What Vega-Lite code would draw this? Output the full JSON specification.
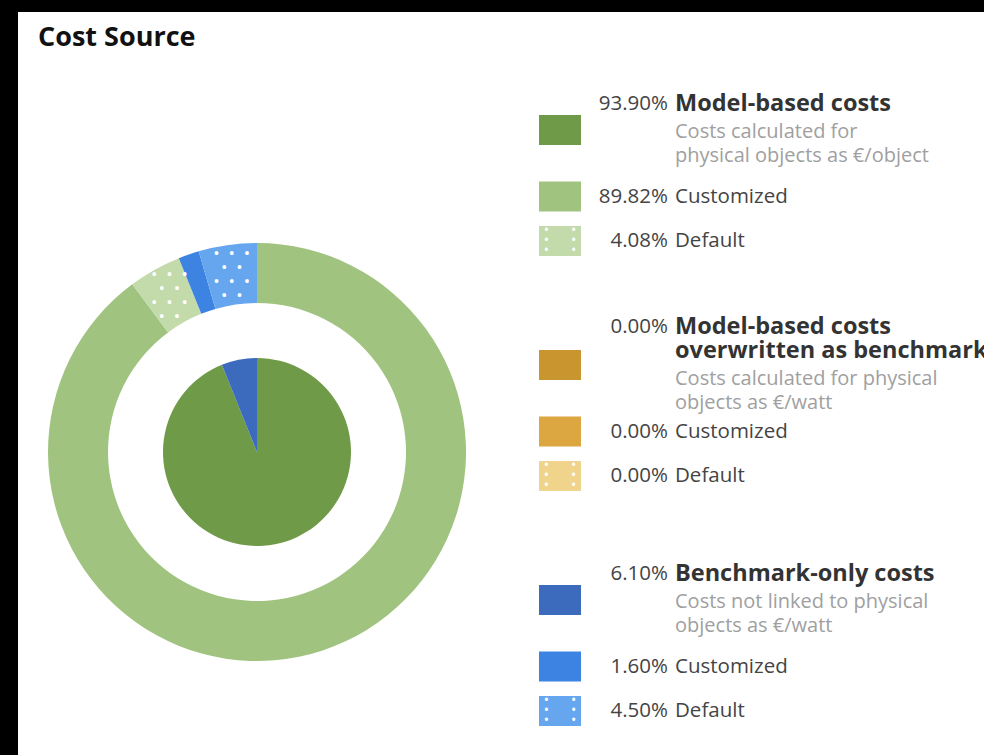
{
  "$schema": "https://vega.github.io/schema/vega-lite/v6.json",
  "background": "black",
  "padding": {"left": 18, "top": 12, "right": 0, "bottom": 0},
  "spacing": 0,
  "config": {
    "view": {"stroke": null, "fill": "white"},
    "font": "Open Sans",
    "concat": {"spacing": 0}
  },
  "datasets": {
    "costs": [
      {"seq": 1, "group": "model", "entry": "header", "value": 93.90, "label": "Model-based costs", "desc": "Costs calculated for\nphysical objects as €/object"},
      {"seq": 2, "group": "model", "entry": "Customized", "value": 89.82, "label": "Customized"},
      {"seq": 3, "group": "model", "entry": "Default", "value": 4.08, "label": "Default"},
      {"seq": 4, "group": "overwritten", "entry": "header", "value": 0.00, "label": "Model-based costs\noverwritten as benchmark", "desc": "Costs calculated for physical\nobjects as €/watt"},
      {"seq": 5, "group": "overwritten", "entry": "Customized", "value": 0.00, "label": "Customized"},
      {"seq": 6, "group": "overwritten", "entry": "Default", "value": 0.00, "label": "Default"},
      {"seq": 7, "group": "benchmark", "entry": "header", "value": 6.10, "label": "Benchmark-only costs", "desc": "Costs not linked to physical\nobjects as €/watt"},
      {"seq": 8, "group": "benchmark", "entry": "Customized", "value": 1.60, "label": "Customized"},
      {"seq": 9, "group": "benchmark", "entry": "Default", "value": 4.50, "label": "Default"}
    ]
  },
  "hconcat": [
    {
      "spacing": 0,
      "vconcat": [
        {
          "width": 478,
          "height": 137,
          "data": {"values": [{"title": "Cost Source"}]},
          "mark": {"type": "text", "align": "left", "baseline": "middle", "fontSize": 27, "fontWeight": "bold", "color": "#111111"},
          "encoding": {
            "text": {"field": "title", "type": "nominal"},
            "x": {"value": 20},
            "y": {"value": 26}
          }
        },
        {
          "width": 478,
          "height": 606,
          "data": {"name": "costs"},
          "transform": [{"calculate": "datum.group + '|' + datum.entry", "as": "key"}],
          "layer": [
            {
              "data": {"values": [{}]},
              "mark": {"type": "rect", "color": "white"},
              "encoding": {}
            },
            {
              "transform": [{"filter": "datum.entry != 'header'"}],
              "mark": {"type": "arc", "innerRadius": 149, "outerRadius": 209},
              "encoding": {
                "theta": {"field": "value", "type": "quantitative", "stack": true},
                "order": {"field": "seq", "type": "quantitative"},
                "color": {
                  "field": "key", "type": "nominal", "legend": null,
                  "scale": {
                    "domain": ["model|header", "model|Customized", "model|Default", "overwritten|header", "overwritten|Customized", "overwritten|Default", "benchmark|header", "benchmark|Customized", "benchmark|Default"],
                    "range": ["#6f9a48", "#a0c37f", "#c3dbab", "#c9952f", "#dca641", "#f1d48b", "#3c6bbd", "#3c83e2", "#66a6ef"]
                  }
                }
              }
            },
            {
              "transform": [{"filter": "datum.entry != 'header'"}],
              "mark": {"type": "text", "radius": 179, "lineBreak": "\n", "color": "white", "fontSize": 17, "lineHeight": 14, "align": "center", "baseline": "middle", "dy": -21},
              "encoding": {
                "theta": {"field": "value", "type": "quantitative", "stack": true},
                "order": {"field": "seq", "type": "quantitative"},
                "text": {"condition": {"test": "datum.entry == 'Default' && datum.value > 0", "value": "•\u00a0\u00a0•\u00a0\u00a0•\n•\u00a0\u00a0•\n•\u00a0\u00a0•\u00a0\u00a0•\n•\u00a0\u00a0•"}, "value": ""}
              }
            },
            {
              "transform": [{"filter": "datum.entry == 'header'"}],
              "mark": {"type": "arc", "outerRadius": 94},
              "encoding": {
                "theta": {"field": "value", "type": "quantitative", "stack": true},
                "order": {"field": "seq", "type": "quantitative"},
                "color": {"field": "key", "type": "nominal", "legend": null}
              }
            }
          ]
        }
      ]
    },
    {
      "width": 488,
      "height": 743,
      "data": {"name": "costs"},
      "transform": [
        {"calculate": "datum.group + '|' + datum.entry", "as": "key"},
        {"calculate": "length(split(datum.label, '\\n'))", "as": "nl"},
        {"calculate": "format(datum.value, '.2f') + '%'", "as": "pctText"}
      ],
      "encoding": {
        "y": {"field": "group", "type": "nominal", "axis": null, "scale": {"type": "point", "padding": 0, "domain": ["model", "overwritten", "benchmark"], "range": [118, 588]}},
        "yOffset": {"field": "entry", "type": "nominal", "scale": {"type": "point", "padding": 0, "domain": ["header", "_a", "_b", "Customized", "_c", "Default"], "range": [0, 111]}}
      },
      "layer": [
        {
          "mark": {"type": "point", "shape": "M-1.4,-1L1.4,-1L1.4,1L-1.4,1Z", "size": 900, "filled": true, "opacity": 1},
          "encoding": {
            "x": {"value": 64},
            "color": {"field": "key", "type": "nominal", "legend": null}
          }
        },
        {
          "transform": [{"filter": "datum.entry == 'Default'"}],
          "mark": {"type": "text", "lineBreak": "\n", "color": "white", "fontSize": 14, "lineHeight": 10, "align": "center", "baseline": "middle", "dy": -10},
          "encoding": {"x": {"value": 64}, "text": {"value": "•\u00a0\u00a0\u00a0\u00a0\u00a0\u00a0•\n\u00a0\u00a0\u00a0•\u00a0\u00a0\u00a0\u00a0\u00a0\u00a0•\n•\u00a0\u00a0\u00a0\u00a0\u00a0\u00a0•"}}
        },
        {
          "mark": {"type": "text", "align": "right", "baseline": "middle", "fontSize": 20.5, "color": "#444444", "dy": {"expr": "datum.entry == 'header' ? -((datum.nl + 1) * 24 + 4) / 2 : 0"}},
          "encoding": {"x": {"value": 172}, "text": {"field": "pctText", "type": "nominal"}}
        },
        {
          "transform": [{"filter": "datum.entry == 'header'"}],
          "mark": {"type": "text", "align": "left", "baseline": "middle", "lineBreak": "\n", "lineHeight": 24, "fontSize": 23.5, "fontWeight": "bold", "color": "#333333", "dy": {"expr": "-((datum.nl + 1) * 24 + 4) / 2"}},
          "encoding": {"x": {"value": 179}, "text": {"field": "label", "type": "nominal"}}
        },
        {
          "transform": [{"filter": "datum.entry == 'header'"}],
          "mark": {"type": "text", "align": "left", "baseline": "middle", "lineBreak": "\n", "lineHeight": 24, "fontSize": 20, "color": "#a0a0a0", "dy": {"expr": "-((datum.nl + 1) * 24 + 4) / 2 + datum.nl * 24 + 4"}},
          "encoding": {"x": {"value": 179}, "text": {"field": "desc", "type": "nominal"}}
        },
        {
          "transform": [{"filter": "datum.entry != 'header'"}],
          "mark": {"type": "text", "align": "left", "baseline": "middle", "fontSize": 20.5, "color": "#444444"},
          "encoding": {"x": {"value": 179}, "text": {"field": "label", "type": "nominal"}}
        }
      ]
    }
  ]
}
